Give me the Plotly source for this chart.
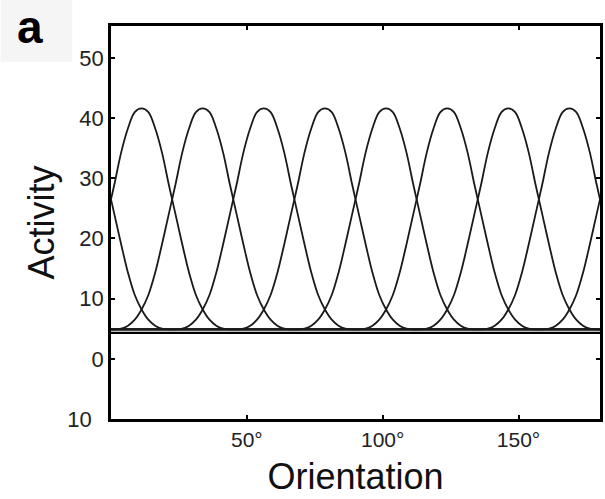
import plotly.graph_objects as go

# Preferred orientations of the 8 tuning curves (degrees)
preferred = [11.25, 33.75, 56.25, 78.75, 101.25, 123.75, 146.25, 168.75]

# Tuning-curve profile: offset from preferred (deg) -> activity
profile_offset = [0, 2.5, 5, 7.5, 10, 11.25, 12.5, 15, 17.5, 20, 22.5, 25, 27.5, 30, 33.75, 45, 90]
profile_activity = [41.6, 41.0, 38.3, 34.3, 29.0, 26.5, 24.0, 19.0, 14.3, 10.6, 8.2, 6.5, 5.5, 5.0, 4.9, 4.9, 4.9]

baseline = 4.3

x_tickvals = [50, 100, 150]
x_ticktext = ["50°", "100°", "150°"]
y_tickvals = [-10, 0, 10, 20, 30, 40, 50]
y_ticktext = ["10\u00a0\u00a0", "0", "10", "20", "30", "40", "50"]

# signed profile from -90 to +90
signed_off = [-o for o in profile_offset[::-1]] + profile_offset[1:]
signed_act = profile_activity[::-1] + profile_activity[1:]

fig = go.Figure()
for p in preferred:
    xs, ys = [], []
    for k in (-1, 0, 1):
        start = 0 if k == -1 else 1
        xs += [p + 180 * k + s for s in signed_off[start:]]
        ys += signed_act[start:]
    fig.add_trace(go.Scatter(x=xs, y=ys, mode="lines",
                             line=dict(color="#1a1a1a", width=1.8, shape="spline"),
                             showlegend=False, hoverinfo="skip"))

fig.add_trace(go.Scatter(x=[0, 180], y=[baseline, baseline], mode="lines",
                         line=dict(color="black", width=2.2), showlegend=False,
                         hoverinfo="skip"))

font_family = "Liberation Sans, Arial, sans-serif"
fig.update_layout(
    width=605, height=499,
    margin=dict(l=111, r=2, t=26, b=80),
    paper_bgcolor="white", plot_bgcolor="white",
    font=dict(family=font_family, color="#111"),
    shapes=[dict(type="rect", xref="paper", yref="paper",
                 x0=-111/492, x1=(72-111)/492, y0=(499-62-80)/393, y1=(499-80)/393,
                 fillcolor="#f5f5f5", line=dict(width=0), layer="below")],
    annotations=[dict(text="<b>a</b>", xref="paper", yref="paper",
                      x=(30-111)/492, y=(499-80-27)/393, showarrow=False,
                      font=dict(size=46, family=font_family, color="black"),
                      xanchor="center", yanchor="middle")],
)
fig.update_xaxes(range=[0, 180], tickvals=x_tickvals, ticktext=x_ticktext,
                 ticks="inside", ticklen=4, tickwidth=1.5, tickcolor="black",
                 showline=True, linecolor="black", linewidth=2.5, mirror="ticks",
                 showgrid=False, zeroline=False,
                 tickfont=dict(size=21, color="#222"),
                 title=dict(text="Orientation", font=dict(size=36, color="#111"), standoff=14))
fig.update_yaxes(range=[-10, 55.3], tickvals=y_tickvals, ticktext=y_ticktext,
                 ticks="inside", ticklen=4, tickwidth=1.5, tickcolor="black",
                 showline=True, linecolor="black", linewidth=2.5, mirror="ticks",
                 showgrid=False, zeroline=False,
                 tickfont=dict(size=22, color="#222"),
                 title=dict(text="Activity", font=dict(size=36, color="#111"), standoff=2))

fig.write_html("out.html")
